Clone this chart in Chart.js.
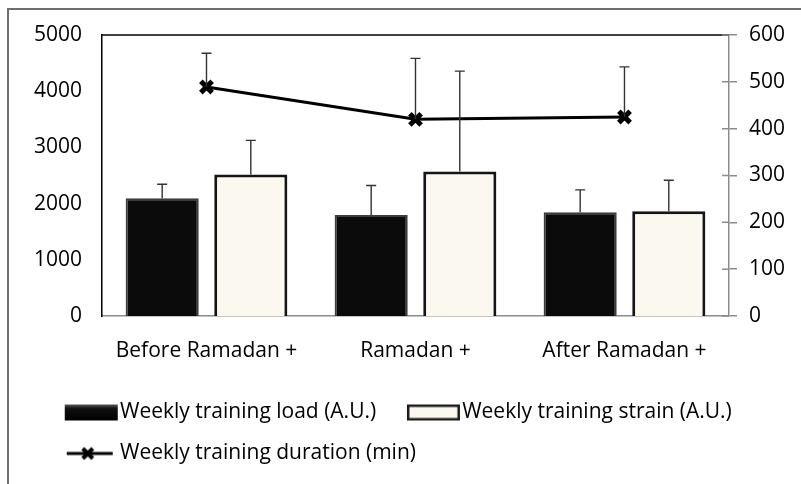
<!DOCTYPE html>
<html>
<head>
<meta charset="utf-8">
<script src="https://cdn.jsdelivr.net/npm/chart.js@4"></script>
<style>
  html, body { margin: 0; padding: 0; background: #fff; }
  #wrap { width: 801px; height: 484px; }
</style>
</head>
<body>
<div id="wrap"><canvas id="myChart" width="801" height="484"></canvas></div>
<script>
const ctx = document.getElementById('myChart').getContext('2d');

// data
const labels = ['Before Ramadan +', 'Ramadan +', 'After Ramadan +'];
const loadVals = [2095, 1798, 1845];
const loadErr = [250, 523, 400];
const strainVals = [2518, 2571, 1862];
const strainErr = [607, 1786, 554];
const durationVals = [489, 420, 425];
const durationErr = [72, 130, 107];

const leftTicks = [0, 1000, 2000, 3000, 4000, 5000];
const rightTicks = [0, 100, 200, 300, 400, 500, 600];

const errSets = [loadErr, strainErr, durationErr];

// small legend swatches drawn on canvases
function swatch(kind) {
  const c = document.createElement('canvas');
  c.width = 74;
  c.height = 18;
  const g = c.getContext('2d');
  if (kind === 'black') {
    const gr = g.createLinearGradient(0, 1, 0, 17);
    gr.addColorStop(0, '#5a5a5a');
    gr.addColorStop(0.25, '#111');
    gr.addColorStop(1, '#000');
    g.fillStyle = gr;
    g.fillRect(20, 1, 53, 16);
  } else if (kind === 'cream') {
    g.fillStyle = '#fbf9ef';
    g.fillRect(20, 1, 53, 16);
    g.strokeStyle = '#1a1a1a';
    g.lineWidth = 2.5;
    g.strokeRect(21.25, 2.25, 50.5, 13.5);
  } else {
    g.strokeStyle = '#000';
    g.lineWidth = 3;
    g.beginPath();
    g.moveTo(22, 9);
    g.lineTo(68, 9);
    g.stroke();
    g.lineWidth = 4;
    g.beginPath();
    g.moveTo(38, 4); g.lineTo(48, 14);
    g.moveTo(48, 4); g.lineTo(38, 14);
    g.stroke();
  }
  return c;
}
const legendSwatches = [swatch('black'), swatch('cream'), swatch('line')];

// outer frame, top border of the plot, inner half of right-axis ticks
const framePlugin = {
  id: 'frame',
  beforeDraw(chart) {
    const c = chart.ctx;
    c.save();
    c.strokeStyle = '#6e6e6e';
    c.lineWidth = 2;
    c.beginPath();
    c.moveTo(8, 484);
    c.lineTo(8, 9);
    c.lineTo(801, 9);
    c.stroke();
    c.restore();
  },
  afterDraw(chart) {
    const a = chart.chartArea;
    const c = chart.ctx;
    c.save();
    c.strokeStyle = '#000';
    c.lineWidth = 1.5;
    c.beginPath();
    c.moveTo(a.left, a.top);
    c.lineTo(a.right, a.top);
    c.stroke();
    const s = chart.scales.y1;
    c.strokeStyle = '#8c8c8c';
    c.beginPath();
    rightTicks.forEach(v => {
      const py = s.getPixelForValue(v);
      c.moveTo(a.right - 7, py);
      c.lineTo(a.right, py);
    });
    c.stroke();
    c.restore();
  }
};

// upper error bars
const errorPlugin = {
  id: 'errors',
  afterDatasetsDraw(chart) {
    const c = chart.ctx;
    c.save();
    c.strokeStyle = '#333';
    c.lineWidth = 1.4;
    chart.data.datasets.forEach((ds, i) => {
      const meta = chart.getDatasetMeta(i);
      const scale = chart.scales[meta.yAxisID];
      meta.data.forEach((el, j) => {
        const top = scale.getPixelForValue(ds.data[j] + errSets[i][j]);
        const base = scale.getPixelForValue(ds.data[j]);
        c.beginPath();
        c.moveTo(el.x, base);
        c.lineTo(el.x, top);
        c.moveTo(el.x - 5, top);
        c.lineTo(el.x + 5, top);
        c.stroke();
      });
    });
    c.restore();
  }
};

Chart.defaults.font.family = "Open Sans";
Chart.defaults.font.size = 21;
Chart.defaults.color = '#000';

const myChart = new Chart(ctx, {
  type: 'bar',
  data: {
    labels: labels,
    datasets: [
      {
        label: 'Weekly training load (A.U.)',
        data: loadVals,
        backgroundColor: '#0b0b0b',
        borderColor: '#3d3d3d',
        borderWidth: 2,
        yAxisID: 'y',
        order: 1
      },
      {
        label: 'Weekly training strain (A.U.)',
        data: strainVals,
        backgroundColor: '#fbf9ef',
        borderColor: '#151515',
        borderWidth: 3,
        yAxisID: 'y',
        order: 1
      },
      {
        type: 'line',
        label: 'Weekly training duration (min)',
        data: durationVals,
        borderColor: '#000',
        backgroundColor: '#000',
        borderWidth: 3,
        pointStyle: 'crossRot',
        pointRadius: 8,
        pointBorderWidth: 5,
        pointBorderColor: '#000',
        tension: 0,
        yAxisID: 'y1',
        order: 0
      }
    ]
  },
  options: {
    responsive: false,
    animation: false,
    layout: {
      padding: { left: 34, right: 4, top: 35, bottom: 10 }
    },
    datasets: {
      bar: {
        categoryPercentage: 0.848,
        barPercentage: 0.825
      }
    },
    plugins: {
      tooltip: { enabled: false },
      legend: {
        position: 'bottom',
        align: 'start',
        labels: {
          usePointStyle: true,
          pointStyleWidth: 55.5,
          boxHeight: 16,
          padding: 20,
          font: { family: 'Open Sans', size: 21 },
          color: '#000',
          generateLabels(chart) {
            return chart.data.datasets.map((ds, i) => ({
              text: ds.label,
              pointStyle: legendSwatches[i],
              fillStyle: '#000',
              strokeStyle: '#000',
              lineWidth: 0,
              hidden: false,
              datasetIndex: i,
              fontColor: '#000'
            }));
          }
        }
      }
    },
    scales: {
      x: {
        offset: true,
        grid: { display: false, drawTicks: false },
        border: { display: true, color: '#8c8c8c', width: 1.5 },
        ticks: { padding: 22, maxRotation: 0, minRotation: 0 },
        afterFit(scale) { scale.height = 66; }
      },
      y: {
        position: 'left',
        min: 0,
        max: 5000,
        grid: { display: false, drawTicks: false },
        border: { display: true, color: '#000', width: 1.5 },
        afterBuildTicks(scale) { scale.ticks = leftTicks.map(v => ({ value: v })); },
        ticks: { padding: 20, callback: v => String(v) },
        afterFit(scale) { scale.width = 68; }
      },
      y1: {
        position: 'right',
        min: 0,
        max: 600,
        grid: { display: true, drawOnChartArea: false, drawTicks: true, tickLength: 8, color: '#8c8c8c', lineWidth: 1.5 },
        border: { display: true, color: '#8c8c8c', width: 1.5 },
        afterBuildTicks(scale) { scale.ticks = rightTicks.map(v => ({ value: v })); },
        ticks: { padding: 12, callback: v => String(v) }
      }
    }
  },
  plugins: [framePlugin, errorPlugin]
});
</script>
</body>
</html>
